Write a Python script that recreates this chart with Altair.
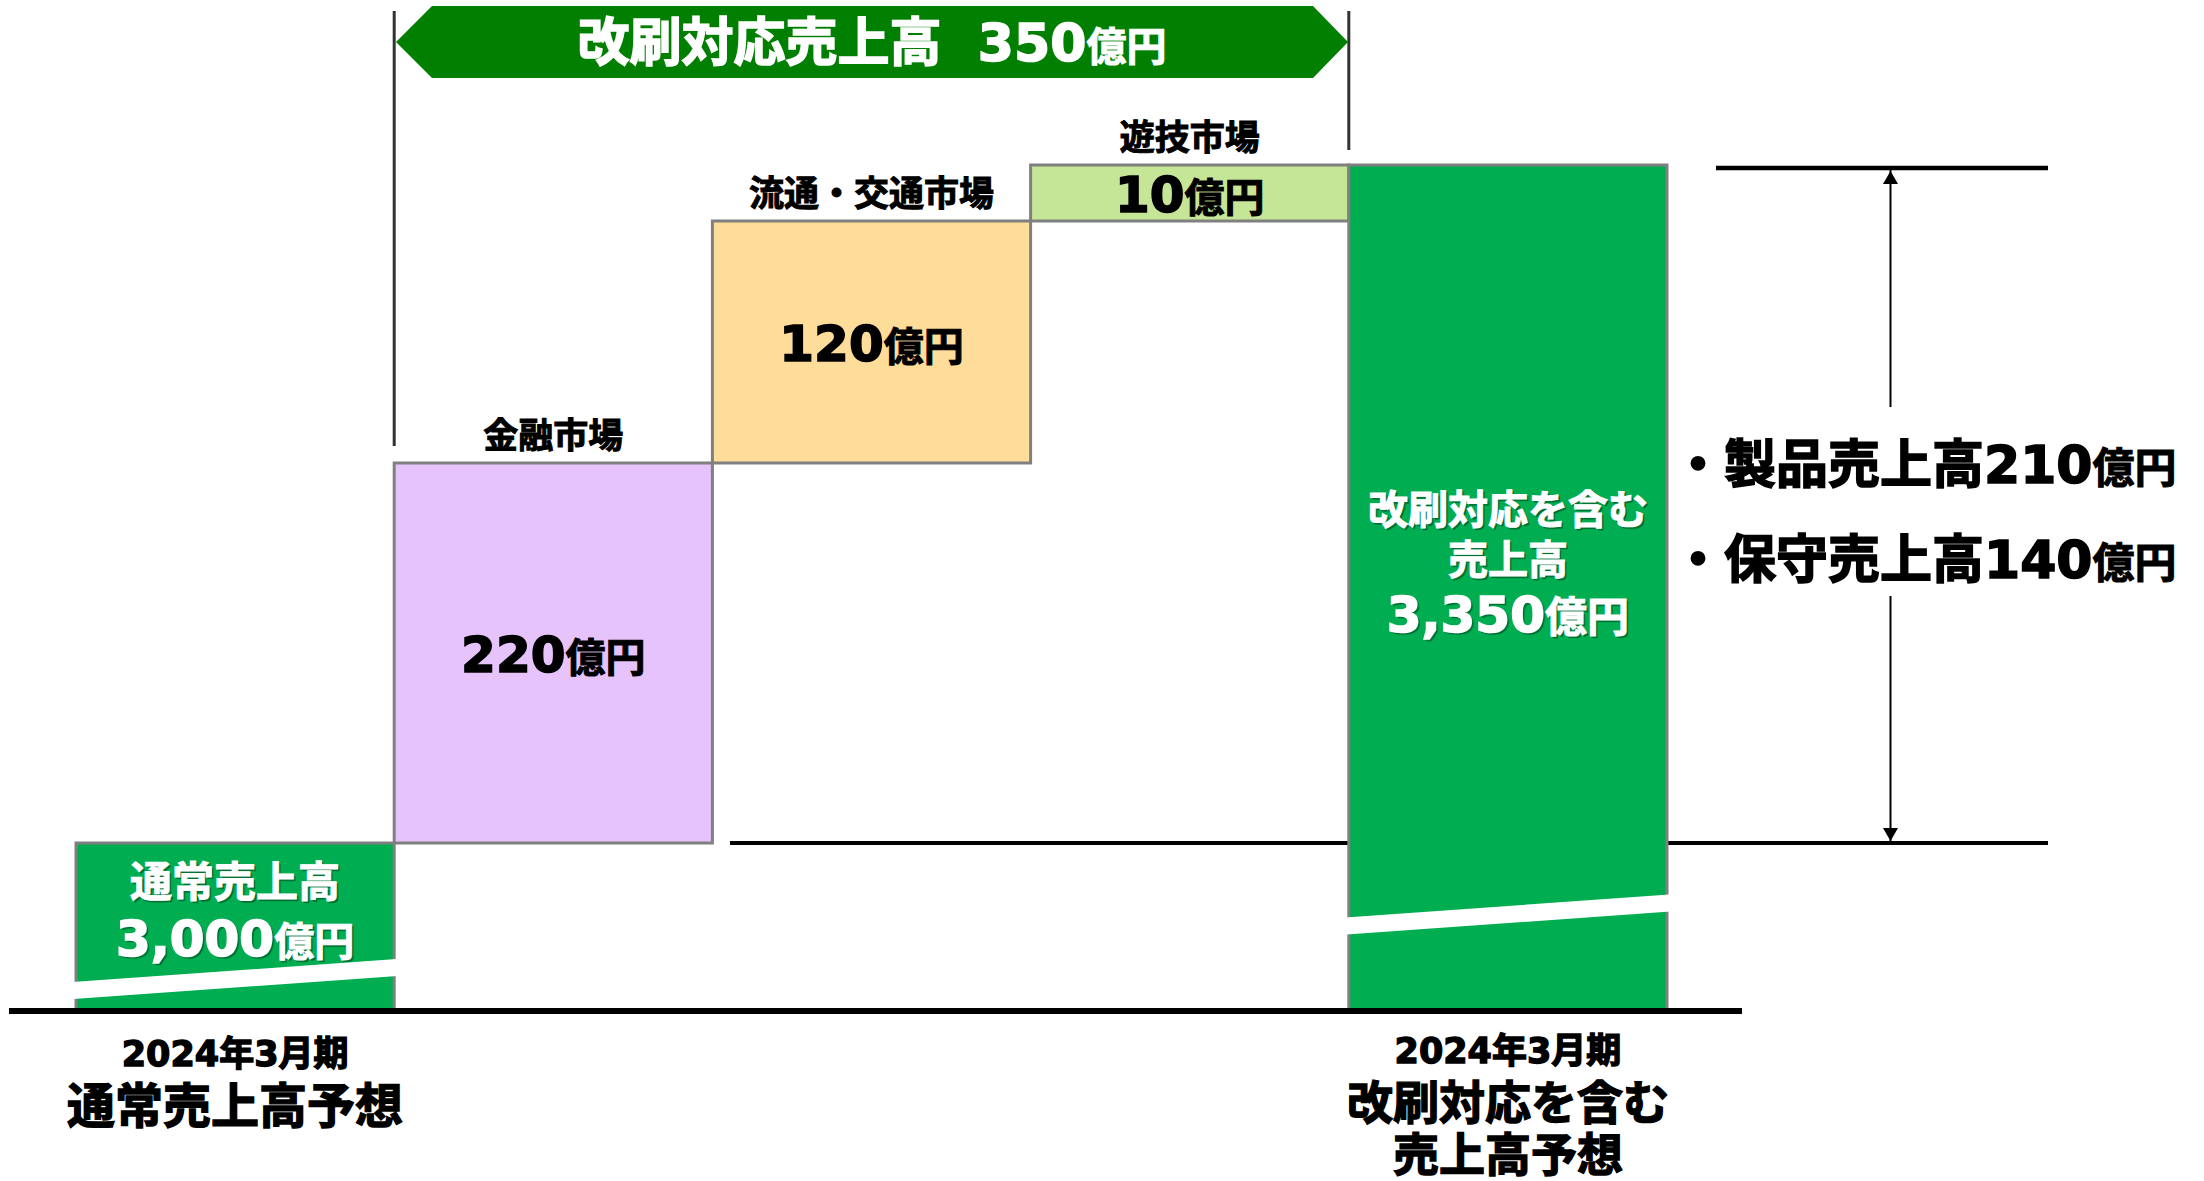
import altair as alt
import pandas as pd

# ---------------- data ----------------
categories = ["通常売上高", "金融市場", "流通・交通市場", "遊技市場", "改刷対応を含む売上高"]
amounts = [3000, 220, 120, 10, 3350]
kinds = ["total", "delta", "delta", "delta", "total"]
total_titles = [["通常売上高"], ["改刷対応を含む", "売上高"]]
period = "2024年3月期"
captions = [["通常売上高予想"], ["改刷対応を含む", "売上高予想"]]
breakdown_names = ["製品売上高", "保守売上高"]
breakdown_values = [210, 140]
banner_title = "改刷対応売上高"
unit = "億円"

# ---------------- styles ----------------
fills = ["#00AD50", "#E7C3FC", "#FEDC9A", "#C6E697", "#00AD50"]
JP = "Noto Sans CJK JP"
MIX = "DejaVu Sans, Noto Sans CJK JP"

rows = []
running = 0
for c, a, k in zip(categories, amounts, kinds):
    if k == "total":
        s, e = 0, a
    else:
        s, e = running, running + a
    running = e
    rows.append(dict(cat=c, start=s, end=e, mid=(s + e) / 2, num=f"{a:,}", unit=unit, kind=k))
df = pd.DataFrame(rows)
delta_sum = sum(a for a, k in zip(amounts, kinds) if k == "delta")

levels = sorted(set([0] + [r["end"] for r in rows]))
pix_levels = [1011, 843, 463, 221, 165]
ys = alt.Scale(domain=levels, range=pix_levels, nice=False, zero=False)
xs = alt.Scale(domain=categories, range=[76, 1667], paddingInner=0, paddingOuter=0)

XC = alt.X("cat:N", scale=xs, axis=None)
XL = alt.X("cat:N", scale=xs, axis=None, bandPosition=0)


def width(s, size, fam):
    w = 0.0
    for ch in s:
        if fam == MIX and ch.isdigit():
            w += 0.696 * size
        elif fam == MIX and ch == ",":
            w += 0.380 * size
        elif fam == MIX and ch == "\u00a0":
            w += 0.348 * size
        else:
            w += size
    return w


def tl(data, field, x, y, fam, size, color, dx=0, dy=0, align="left", opacity=1.0, heavy=1.2):
    return alt.Chart(data).mark_text(
        font=fam, fontSize=size, fontWeight="bold", color=color, align=align,
        baseline="alphabetic", dx=dx, dy=dy, opacity=opacity,
        stroke=color, strokeWidth=heavy, strokeOpacity=opacity
    ).encode(x=x, y=y, text=alt.Text(f"{field}:N"))


def rich(data, parts, x, y, dy, color, shadow=False, anchor="center"):
    total = sum(width(t, s, f) for _, t, f, s in parts)
    off = -total / 2 if anchor == "center" else 0
    shadows, texts = [], []
    for field, t, f, s in parts:
        hv = 1.6 if f == MIX else 1.0
        if shadow:
            shadows.append(tl(data, field, x, y, f, s, "#000000", dx=off + 2, dy=dy + 2,
                              opacity=0.35, heavy=hv))
        texts.append(tl(data, field, x, y, f, s, color, dx=off, dy=dy, heavy=hv))
        off += width(t, s, f)
    return shadows + texts


layers = []

# banner (double arrow)
cx, cy, hw, hh = 872, 42, 476, 36
pts = [(396, 0), (432, -hh), (1313, -hh), (1348, 0), (1313, hh), (432, hh)]
path = "M " + " L ".join(f"{(px - cx) / hw:.4f} {py / hw:.4f}" for px, py in pts) + " Z"
one = pd.DataFrame({"k": [0]})
layers.append(alt.Chart(one).mark_point(shape=path, size=(2 * hw) ** 2, filled=True,
                                        color="#017F01", opacity=1, strokeWidth=0)
              .encode(x=alt.value(cx), y=alt.value(cy)))

# bracket lines at start of deltas and final total
first_delta = df[df.kind == "delta"].iloc[[0]]
final_total = df.iloc[[len(df) - 1]]
base_total = df.iloc[[0]]
for d, off in [(first_delta, -17), (final_total, -15)]:
    layers.append(alt.Chart(d).mark_rule(color="#333333", strokeWidth=3, yOffset=off)
                  .encode(x=XL, y=alt.Y("end:Q", scale=ys, axis=None), y2=alt.value(11)))

# level lines
layers.append(alt.Chart(base_total).mark_rule(color="#000000", strokeWidth=4)
              .encode(x=alt.value(730), x2=alt.value(2048), y=alt.Y("end:Q", scale=ys, axis=None)))
layers.append(alt.Chart(final_total).mark_rule(color="#000000", strokeWidth=4.5, yOffset=3)
              .encode(x=alt.value(1716), x2=alt.value(2048), y=alt.Y("end:Q", scale=ys, axis=None)))

# bars
layers.append(alt.Chart(df).mark_bar(stroke="#808080", strokeWidth=3).encode(
    x=XC,
    y=alt.Y("start:Q", scale=ys, axis=None),
    y2="end:Q",
    fill=alt.Fill("cat:N", scale=alt.Scale(domain=categories, range=fills), legend=None)))

# break marks on the total bars
for (x1, y1, x2, y2) in [(73, 990.5, 397, 967.5), (1346, 926, 1670, 903)]:
    layers.append(alt.Chart(one).mark_rule(color="#FFFFFF", strokeWidth=17, strokeCap="butt")
                  .encode(x=alt.value(x1), y=alt.value(y1), x2=alt.value(x2), y2=alt.value(y2)))

# baseline
layers.append(alt.Chart(base_total).mark_rule(color="#000000", strokeWidth=6)
              .encode(x=alt.value(9), x2=alt.value(1742), y=alt.Y("start:Q", scale=ys, axis=None)))

# delta labels above and values inside
for _, r in df[df.kind == "delta"].iterrows():
    d = df[df.cat == r["cat"]]
    layers.append(tl(d, "cat", XC, alt.Y("end:Q", scale=ys, axis=None), JP, 35, "#000000",
                     dy=-15, align="center", heavy=1.0))
    layers += rich(d, [("num", r["num"], MIX, 50), ("unit", unit, JP, 40)],
                   XC, alt.Y("mid:Q", scale=ys, axis=None), 19, "#000000")

# total bar inner labels
tot_rows = df[df.kind == "total"]
inner_dy = [[54], [359, 409]]
value_dy = [113, 467]
unit_sz = [40, 42]
for i, (_, r) in enumerate(tot_rows.iterrows()):
    for j, line in enumerate(total_titles[i]):
        d = pd.DataFrame({"cat": [r["cat"]], "end": [r["end"]], "t": [line]})
        layers += rich(d, [("t", line, JP, 42 if i == 0 else 40)], XC,
                       alt.Y("end:Q", scale=ys, axis=None), inner_dy[i][j], "#FFFFFF", shadow=True)
    d = df[df.cat == r["cat"]]
    layers += rich(d, [("num", r["num"], MIX, 50), ("unit", unit, JP, unit_sz[i])], XC,
                   alt.Y("end:Q", scale=ys, axis=None), value_dy[i], "#FFFFFF", shadow=True)

# bottom captions
cap_base = [[1066, 1123], [1063, 1119, 1171]]
cap_size = [[35, 48], [35, 46, 46]]
for i, (_, r) in enumerate(tot_rows.iterrows()):
    lines = [period] + captions[i]
    for j, line in enumerate(lines):
        d = pd.DataFrame({"cat": [r["cat"]], "t": [line]})
        layers.append(tl(d, "t", XC, alt.value(cap_base[i][j]), MIX, cap_size[i][j], "#000000",
                         align="center", heavy=1.4))

# banner text
bd = pd.DataFrame({"lead": [banner_title + "\u00a0\u00a0" + f"{delta_sum:,}"], "unit": [unit]})
layers += rich(bd, [("lead", bd["lead"][0], MIX, 52), ("unit", unit, JP, 40)],
               alt.value(cx), alt.value(61), 0, "#FFFFFF")

# right breakdown annotation with double arrow
layers.append(alt.Chart(final_total).mark_rule(color="#000000", strokeWidth=2, yOffset=5)
              .encode(x=alt.value(1890.5), y=alt.Y("end:Q", scale=ys, axis=None), y2=alt.value(407)))
layers.append(alt.Chart(base_total).mark_rule(color="#000000", strokeWidth=2)
              .encode(x=alt.value(1890.5), y=alt.Y("end:Q", scale=ys, axis=None), y2=alt.value(596)))
layers.append(alt.Chart(final_total).mark_point(shape="triangle-up", size=225, filled=True,
                                                color="#000000", opacity=1, strokeWidth=0, yOffset=12.5)
              .encode(x=alt.value(1890.5), y=alt.Y("end:Q", scale=ys, axis=None)))
layers.append(alt.Chart(base_total).mark_point(shape="triangle-down", size=225, filled=True,
                                               color="#000000", opacity=1, strokeWidth=0, yOffset=-8.5)
              .encode(x=alt.value(1890.5), y=alt.Y("end:Q", scale=ys, axis=None)))
for name, val, yb in zip(breakdown_names, breakdown_values, [483, 578]):
    lead = "・" + name + f"{val:,}"
    d = pd.DataFrame({"lead": [lead], "unit": [unit]})
    layers += rich(d, [("lead", lead, MIX, 52), ("unit", unit, JP, 42)],
                   alt.value(1672), alt.value(yb), 0, "#000000", anchor="left")

chart = alt.layer(*layers).properties(
    width=2204, height=1181, padding=0,
    autosize=alt.AutoSizeParams(type="none"), background="#FFFFFF"
).configure_view(strokeWidth=0)

chart.save("out.html", embed_options={"renderer": "svg", "actions": False})
